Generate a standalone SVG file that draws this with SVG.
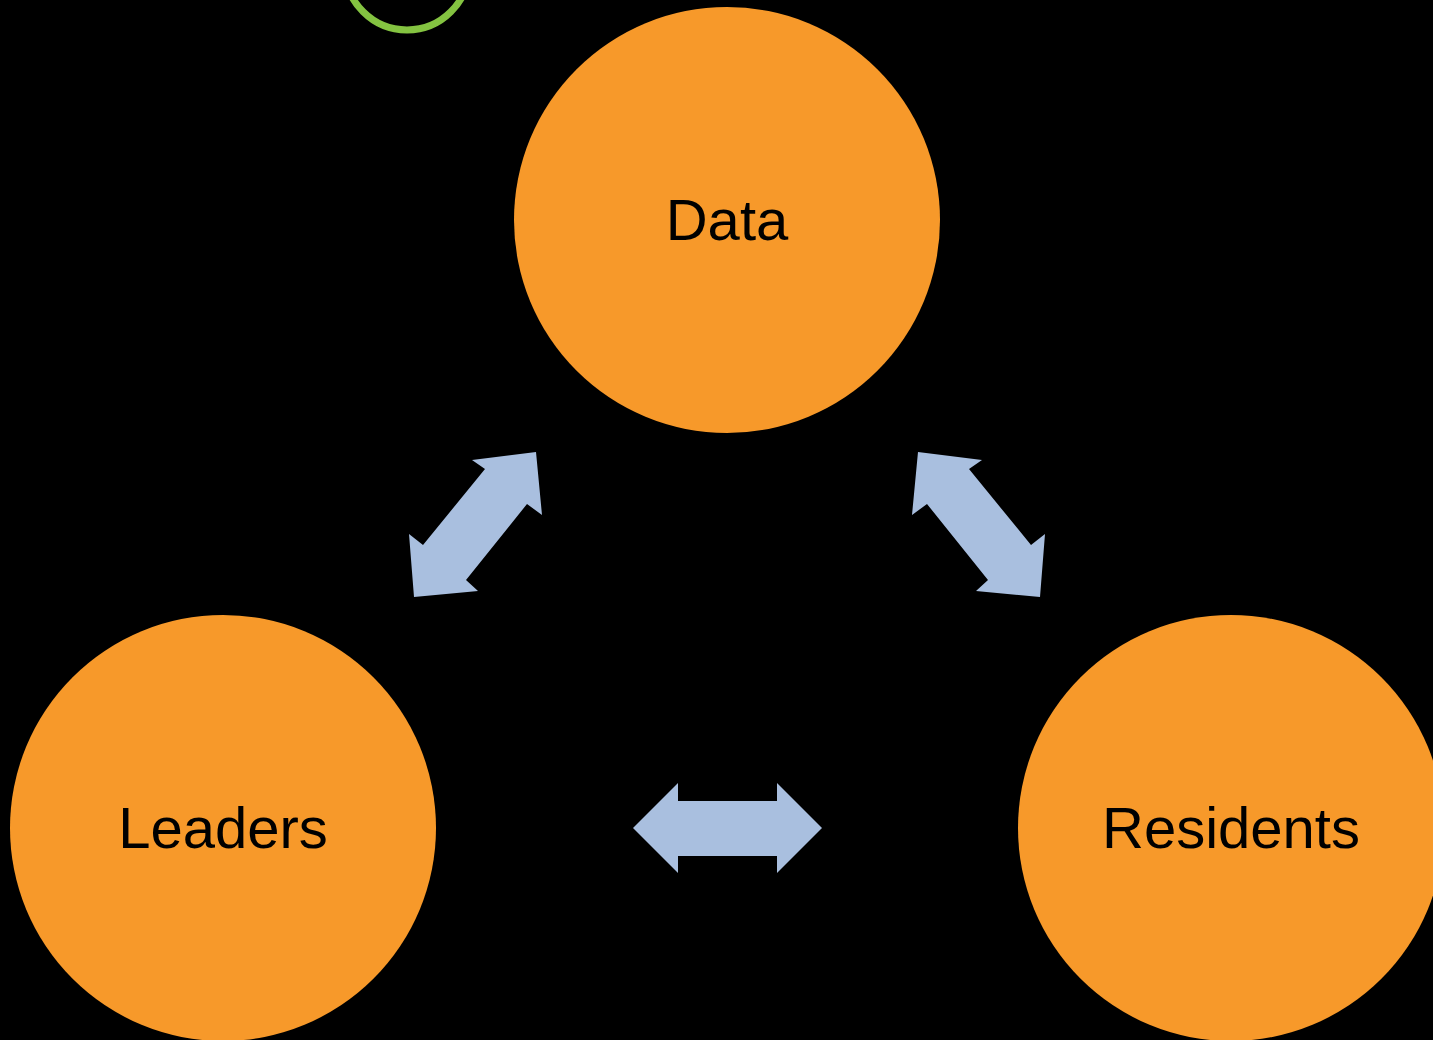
<svg xmlns="http://www.w3.org/2000/svg" width="1433" height="1040" viewBox="0 0 1433 1040">
<style>
.node{fill:#F7992A}
.lbl{font-family:"Liberation Sans",Arial,sans-serif;font-size:58px;fill:#000;text-anchor:middle}
.arr{fill:#A9BFDF}
</style>
<rect width="1433" height="1040" fill="#000"/>
<circle cx="407" cy="-32" r="62" fill="none" stroke="#84C341" stroke-width="7"/>
<g id="data"><circle class="node" cx="727" cy="220" r="213"/><text class="lbl" x="727" y="240">Data</text></g>
<g id="leaders"><circle class="node" cx="223" cy="828" r="213"/><text class="lbl" x="223" y="848">Leaders</text></g>
<g id="residents"><circle class="node" cx="1231" cy="828" r="213"/><text class="lbl" x="1231" y="848">Residents</text></g>
<g id="connectors">
<polygon class="arr" points="472,460 536,452 542,515 527,504 466,580 478,591 414,597 409,534 423,545 485,469"/>
<polygon class="arr" points="982,460 918,452 912,515 927,504 988,580 976,591 1040,597 1045,534 1031,545 969,469"/>
<polygon class="arr" points="633,828 678,783 678,801 777,801 777,783 822,828 777,873 777,856 678,856 678,873"/>
</g>
</svg>
